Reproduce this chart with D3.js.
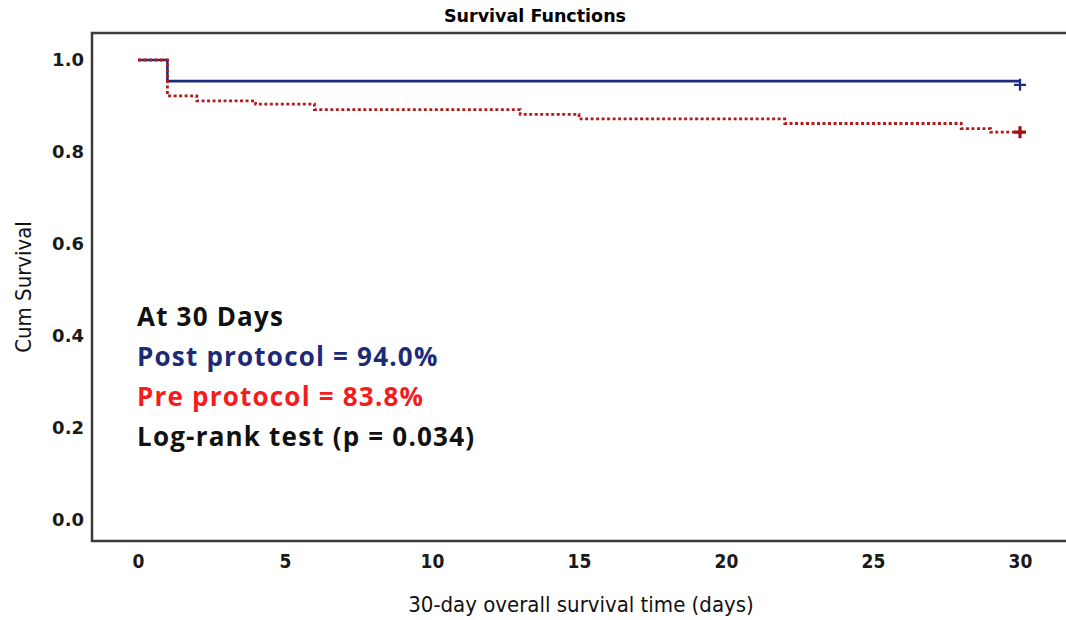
<!DOCTYPE html>
<html lang="en">
  <head>
    <meta charset="UTF-8" />
    <title>Survival Functions</title>
    <style>
      body { margin: 0; background: #fff; }
      svg { display: block; }
      .x-tick { font-family: 'DejaVu Sans Condensed', 'DejaVu Sans', sans-serif; font-size: 19px; font-weight: bold; fill: #1a1a1a; }
      .y-tick { font-family: 'DejaVu Sans', sans-serif; font-size: 18px; font-weight: bold; fill: #1a1a1a; }
      .axis-title { font-family: 'DejaVu Sans Condensed', 'DejaVu Sans', sans-serif; font-size: 22px; fill: #111; }
      .note { font-family: 'Open Sans', Lato, sans-serif; font-size: 26px; font-weight: 700; letter-spacing: 1.2px; }
    </style>
  </head>
  <body>
    <div id="chart"></div>
    <script src="https://d3js.org/d3.v7.min.js"></script>
    <script>
      // Kaplan-Meier step data (days, cumulative survival)
      const postDays = [0, 1, 30];
      const postSurv = [1.0, 0.954, 0.954];
      const preDays = [0, 1, 2, 4, 6, 13, 15, 22, 28, 29, 30];
      const preSurv = [1.0, 0.922, 0.911, 0.904, 0.892, 0.882, 0.872, 0.862, 0.851, 0.843, 0.843];
      const censorPost = [{ day: 30, surv: 0.946 }];
      const censorPre = [{ day: 30, surv: 0.843 }];

      const xTicks = [0, 5, 10, 15, 20, 25, 30];
      const yTicks = [0, 0.2, 0.4, 0.6, 0.8, 1.0];

      const notes = [
        { text: 'At 30 Days', color: '#111' },
        { text: 'Post protocol = 94.0%', color: '#1c2a78' },
        { text: 'Pre protocol = 83.8%', color: '#f41c1c' },
        { text: 'Log-rank test (p = 0.034)', color: '#111' },
      ];

      const W = 1066, H = 620;
      const frame = { left: 92, top: 33, right: 1072, bottom: 541 };

      const svg = d3.select('#chart').append('svg').attr('width', W).attr('height', H);

      const x = d3.scaleLinear().domain([0, 30]).range([138, 1020]);
      const y = d3.scaleLinear().domain([0, 1]).range([520, 60]);

      // frame
      svg.append('rect')
        .attr('x', frame.left).attr('y', frame.top)
        .attr('width', frame.right - frame.left).attr('height', frame.bottom - frame.top)
        .attr('fill', 'none').attr('stroke', '#3a3a3a').attr('stroke-width', 2.5);

      // title
      svg.append('text')
        .attr('x', 535).attr('y', 22)
        .attr('text-anchor', 'middle')
        .style('font-family', "'DejaVu Sans', sans-serif")
        .style('font-size', '17.5px').style('font-weight', 'bold')
        .text('Survival Functions');

      // axes (labels only, no tick marks)
      const xAxis = svg.append('g').attr('transform', `translate(0, ${frame.bottom})`)
        .call(d3.axisBottom(x).tickValues(xTicks).tickSize(0).tickPadding(14).tickFormat(d3.format('d')));
      xAxis.select('.domain').remove();
      xAxis.selectAll('text').attr('class', 'x-tick').attr('font-size', null).attr('font-family', null).attr('fill', null);

      const yAxis = svg.append('g').attr('transform', `translate(${frame.left}, 0)`)
        .call(d3.axisLeft(y).tickValues(yTicks).tickSize(0).tickPadding(8).tickFormat(d3.format('.1f')));
      yAxis.select('.domain').remove();
      yAxis.selectAll('text').attr('class', 'y-tick').attr('font-size', null).attr('font-family', null).attr('fill', null);

      svg.append('text')
        .attr('class', 'axis-title')
        .attr('x', 581).attr('y', 612)
        .attr('text-anchor', 'middle')
        .text('30-day overall survival time (days)');

      svg.append('text')
        .attr('class', 'axis-title')
        .attr('transform', 'translate(31, 287) rotate(-90)')
        .attr('text-anchor', 'middle')
        .text('Cum Survival');

      // curves
      const line = d3.line()
        .x((d) => x(d[0]))
        .y((d) => y(d[1]))
        .curve(d3.curveStepAfter);

      svg.append('path')
        .datum(d3.zip(postDays, postSurv))
        .attr('d', line)
        .attr('fill', 'none')
        .attr('stroke', '#1c2a80')
        .attr('stroke-width', 2.6);

      svg.append('path')
        .datum(d3.zip(preDays, preSurv))
        .attr('d', line)
        .attr('fill', 'none')
        .attr('stroke', '#b41c1c')
        .attr('stroke-width', 2.8)
        .attr('stroke-dasharray', '3,2.5');

      // censor marks
      const cross = (data, color, w, s) => {
        svg.selectAll(null).data(data).enter().append('path')
          .attr('d', (d) => {
            const cx = x(d.day), cy = y(d.surv);
            return `M${cx - s},${cy}H${cx + s}M${cx},${cy - s}V${cy + s}`;
          })
          .attr('stroke', color).attr('stroke-width', w).attr('fill', 'none');
      };
      cross(censorPost, '#1c2a80', 2.2, 6);
      cross(censorPre, '#a50f0f', 3.2, 6);

      // annotation text
      svg.selectAll('.note').data(notes).enter().append('text')
        .attr('class', 'note')
        .attr('x', 137)
        .attr('y', (d, i) => 326 + i * 40)
        .attr('fill', (d) => d.color)
        .text((d) => d.text);
    </script>
  </body>
</html>
